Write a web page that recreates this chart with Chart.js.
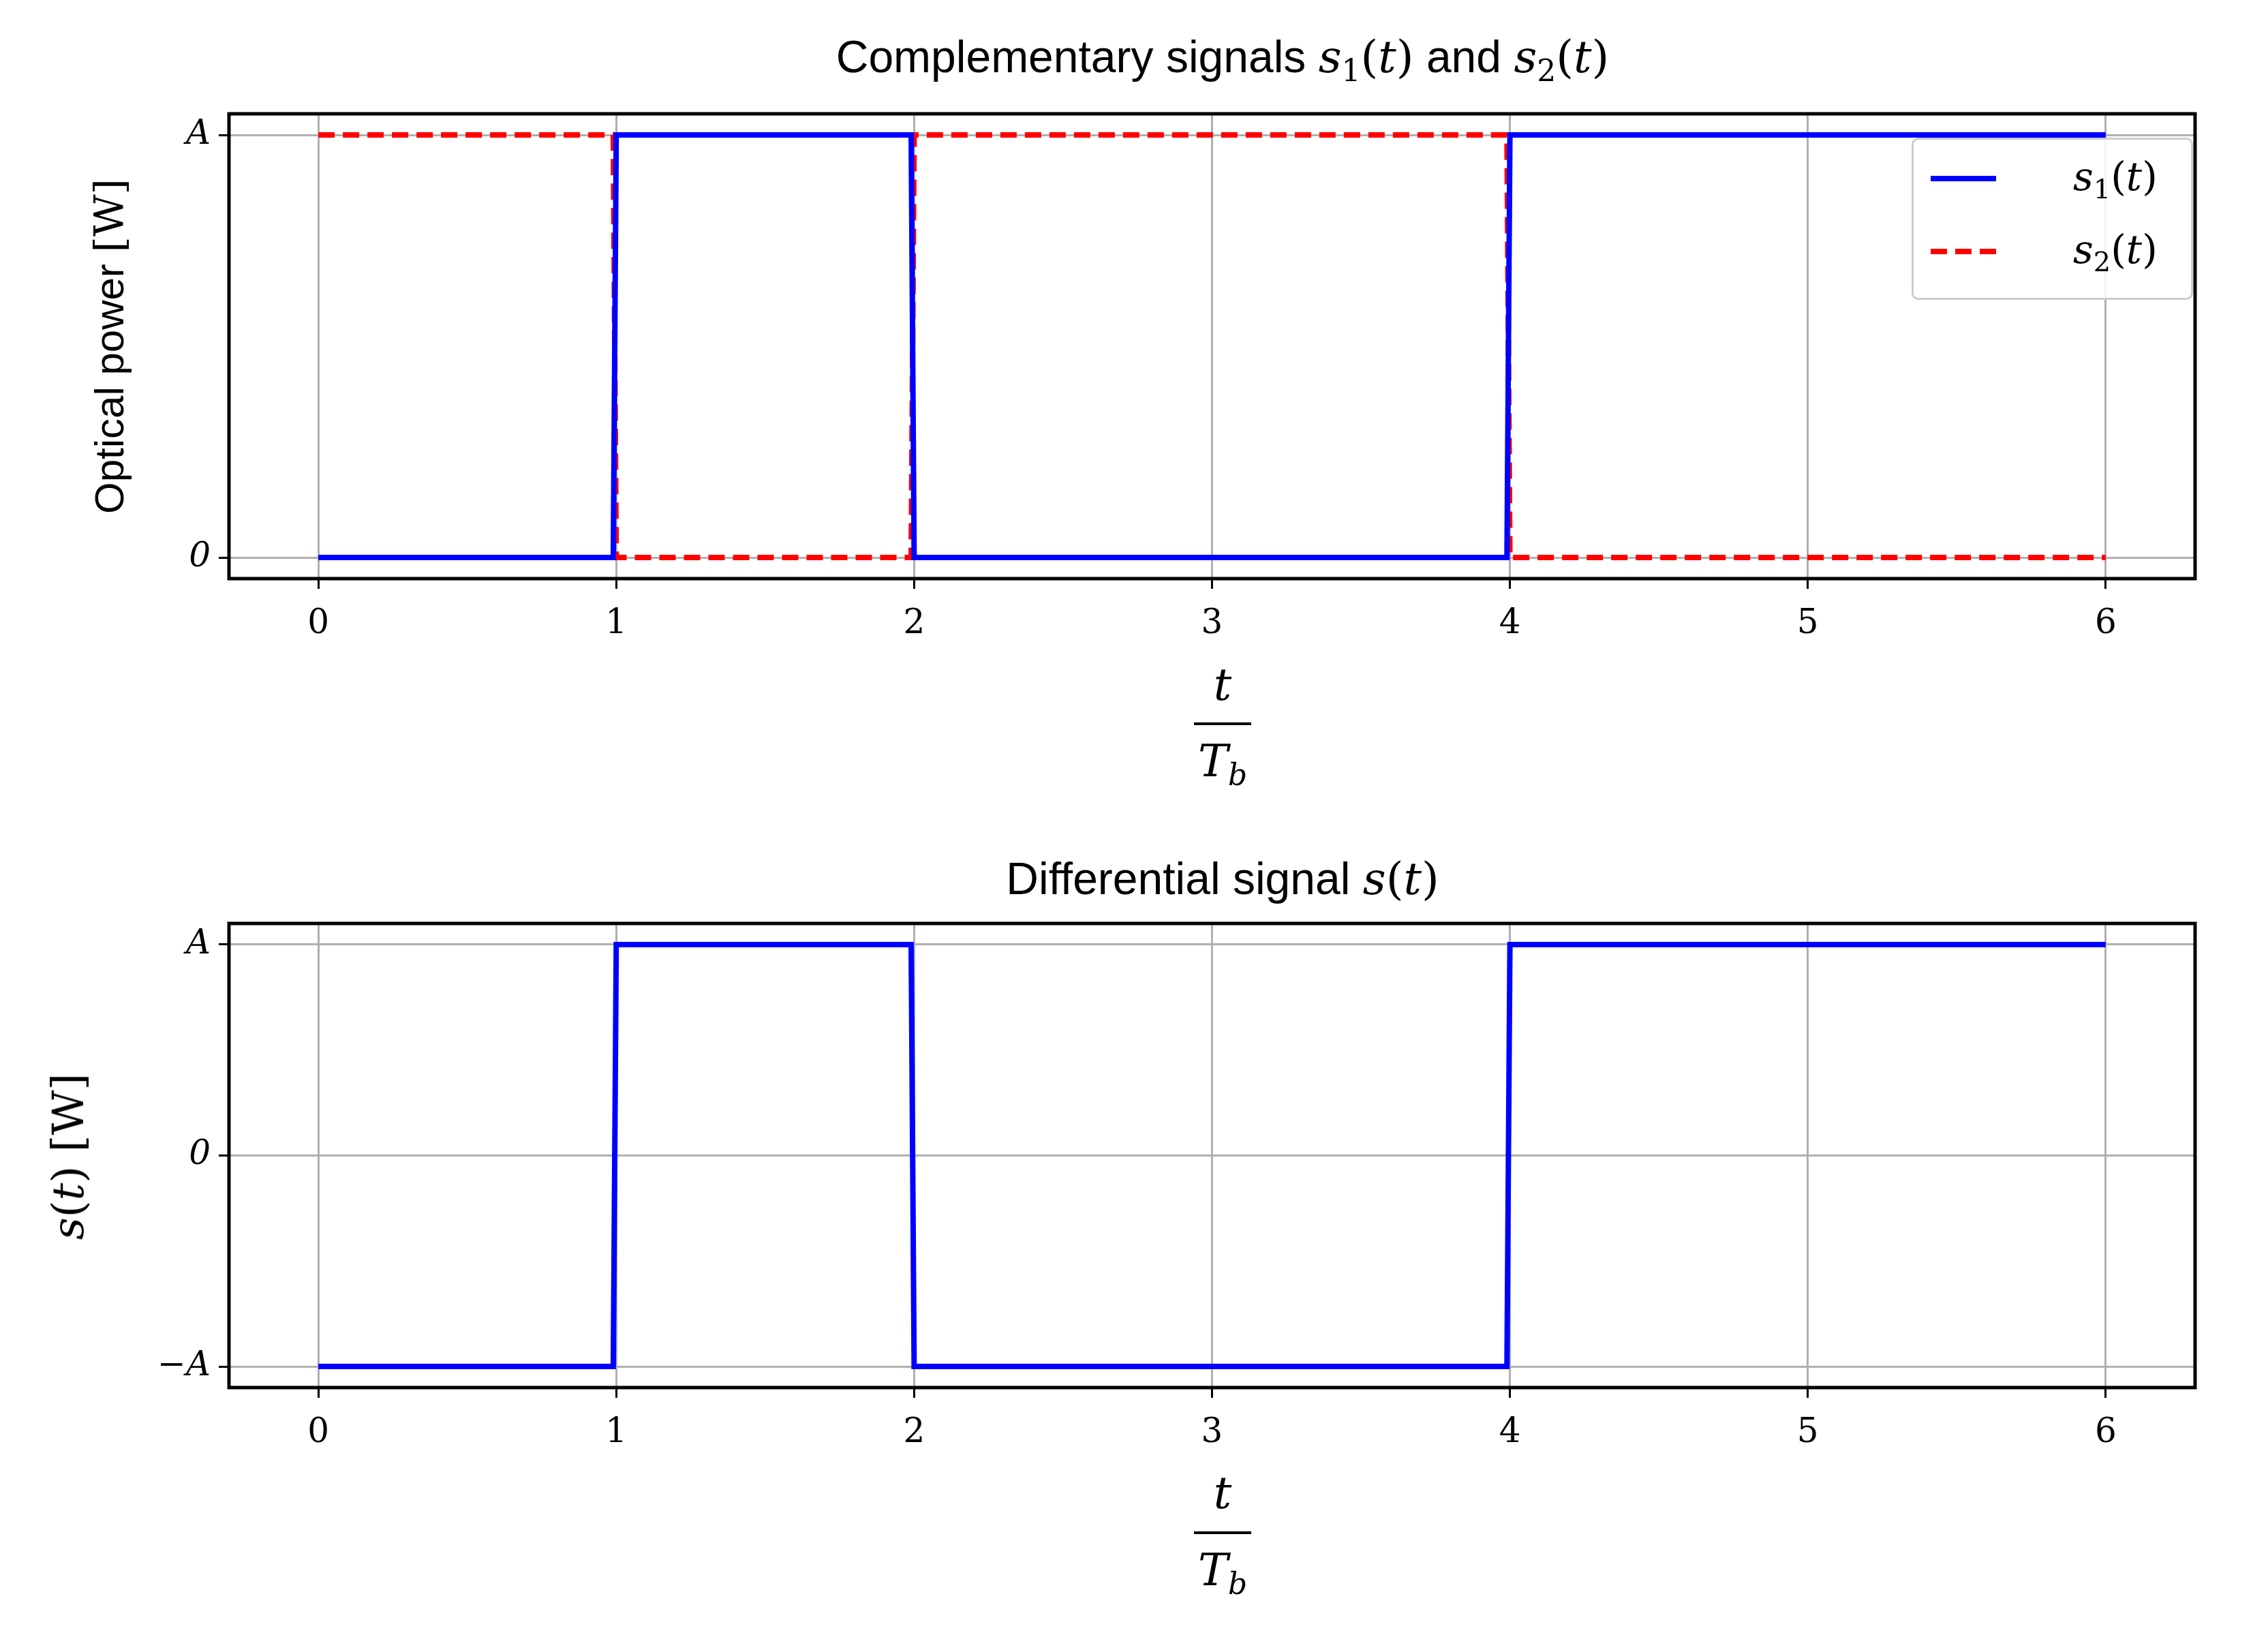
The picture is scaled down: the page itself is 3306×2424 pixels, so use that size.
<!DOCTYPE html>
<html><head><meta charset="utf-8">
<script src="https://cdn.jsdelivr.net/npm/chart.js@4"></script>
<style>
body{margin:0;background:#fff;width:3306px;height:2424px;position:relative;overflow:hidden;font-family:"Liberation Sans",Arial,sans-serif}
canvas{position:absolute;left:0}
.t{position:absolute;white-space:nowrap;color:#000}
.m{font-family:"DejaVu Serif","Liberation Serif",serif;font-style:italic}
.r{font-family:"DejaVu Serif","Liberation Serif",serif}
sub{vertical-align:-0.3em}
</style></head><body>
<canvas id="c1" width="3306" height="1150" style="top:0;width:3306px;height:1150px"></canvas>
<canvas id="c2" width="3306" height="1274" style="top:1150px;width:3306px;height:1274px"></canvas>

<div class="t" style="left:1794px;top:87px;transform:translate(-50%,-50%);font-size:66px">Complementary signals <span class="m">s</span><sub class="r" style="font-size:44px">1</sub><span class="r">(</span><span class="m">t</span><span class="r">)</span> and <span class="m">s</span><sub class="r" style="font-size:44px">2</sub><span class="r">(</span><span class="m">t</span><span class="r">)</span></div>
<div class="t" style="left:1794px;top:1289px;transform:translate(-50%,-50%);font-size:66px">Differential signal <span class="m">s</span><span class="r">(</span><span class="m">t</span><span class="r">)</span></div>

<div class="t" style="left:160px;top:508px;transform:translate(-50%,-50%) rotate(-90deg);font-size:60px">Optical power <span class="r">[W]</span></div>
<div class="t" style="left:100px;top:1697px;transform:translate(-50%,-50%) rotate(-90deg);font-size:64px"><span class="m">s</span><span class="r">(</span><span class="m">t</span><span class="r">) [W]</span></div>

<div class="t m" style="left:1794px;top:1004px;transform:translate(-50%,-50%);font-size:66px">t</div>
<div style="position:absolute;left:1752px;top:1060px;width:84px;height:4px;background:#000"></div>
<div class="t" style="left:1794px;top:1120px;transform:translate(-50%,-50%);font-size:66px"><span class="m">T</span><sub class="m" style="font-size:44px">b</sub></div>
<div class="t m" style="left:1794px;top:2190px;transform:translate(-50%,-50%);font-size:66px">t</div>
<div style="position:absolute;left:1752px;top:2247px;width:84px;height:4px;background:#000"></div>
<div class="t" style="left:1794px;top:2307px;transform:translate(-50%,-50%);font-size:66px"><span class="m">T</span><sub class="m" style="font-size:44px">b</sub></div>

<div style="position:absolute;left:2805px;top:202px;width:407px;height:232px;border:3px solid #ccc;border-radius:10px;background:rgba(255,255,255,0.85)"></div>
<div style="position:absolute;left:2833px;top:258px;width:96px;height:8px;background:#0000ff"></div>
<div style="position:absolute;left:2833px;top:365px;width:96px;height:8px;background:repeating-linear-gradient(90deg,#ff0000 0 24px,transparent 24px 36px)"></div>
<div class="t" style="left:3042px;top:262px;transform:translateY(-50%);font-size:58px"><span class="m">s</span><sub class="r" style="font-size:40px">1</sub><span class="r">(</span><span class="m">t</span><span class="r">)</span></div>
<div class="t" style="left:3042px;top:369px;transform:translateY(-50%);font-size:58px"><span class="m">s</span><sub class="r" style="font-size:40px">2</sub><span class="r">(</span><span class="m">t</span><span class="r">)</span></div>

<script>
const tPts = [0, 0.99, 1.0, 1.99, 2.0, 3.99, 4.0, 6.0];
const s1Vals = [0, 0, 1, 1, 0, 0, 1, 1];
const s2Vals = [1, 1, 0, 0, 1, 1, 0, 0];
const sVals = [-1, -1, 1, 1, -1, -1, 1, 1];
const xTicks = [0, 1, 2, 3, 4, 5, 6];
const yTicksTop = {0: '0', 1: 'A'};
const yTicksBot = {'-1': '\u2212A', 0: '0', 1: 'A'};

const pts = (xs, ys) => xs.map((x, i) => ({x, y: ys[i]}));
const frame = {id:'frame', afterDraw(c){const a=c.chartArea,x=c.ctx;x.save();x.strokeStyle='#000';x.lineWidth=5;x.strokeRect(a.left,a.top,a.right-a.left,a.bottom-a.top);x.restore();}};

function make(id, datasets, ymin, ymax, ymap, padTop, xh){
  new Chart(document.getElementById(id), {
    type:'line',
    data:{datasets},
    options:{
      responsive:false, animation:false,
      layout:{padding:{top:padTop,right:85,left:0,bottom:0}},
      plugins:{legend:{display:false},tooltip:{enabled:false}},
      elements:{point:{radius:0},line:{tension:0}},
      scales:{
        x:{type:'linear',min:-0.3,max:6.3,
          afterBuildTicks(s){s.ticks=xTicks.map(v=>({value:v}));},
          afterFit(s){s.height=xh;},
          grid:{color:'#b0b0b0',lineWidth:3,tickColor:'#000',tickLength:15,tickWidth:3},
          border:{display:false},
          ticks:{color:'#000',padding:22,font:{family:'DejaVu Serif',size:50},maxRotation:0,callback:v=>String(v)}},
        y:{type:'linear',min:ymin,max:ymax,
          afterBuildTicks(s){s.ticks=Object.keys(ymap).map(v=>({value:+v}));},
          afterFit(s){s.width=336;},
          grid:{color:'#b0b0b0',lineWidth:3,tickColor:'#000',tickLength:15,tickWidth:3},
          border:{display:false},
          ticks:{color:'#000',padding:12,font:{family:'DejaVu Serif',size:50,style:'italic'},callback:v=>ymap[v]}}
      }
    },
    plugins:[frame]
  });
}
make('c1',[
  {data:pts(tPts,s1Vals),borderColor:'#0000ff',borderWidth:8},
  {data:pts(tPts,s2Vals),borderColor:'#ff0000',borderWidth:8,borderDash:[24,12]}
],-0.05,1.05,yTicksTop,167,301);
make('c2',[
  {data:pts(tPts,sVals),borderColor:'#0000ff',borderWidth:8}
],-1.1,1.1,yTicksBot,205,388);
</script>
</body></html>
